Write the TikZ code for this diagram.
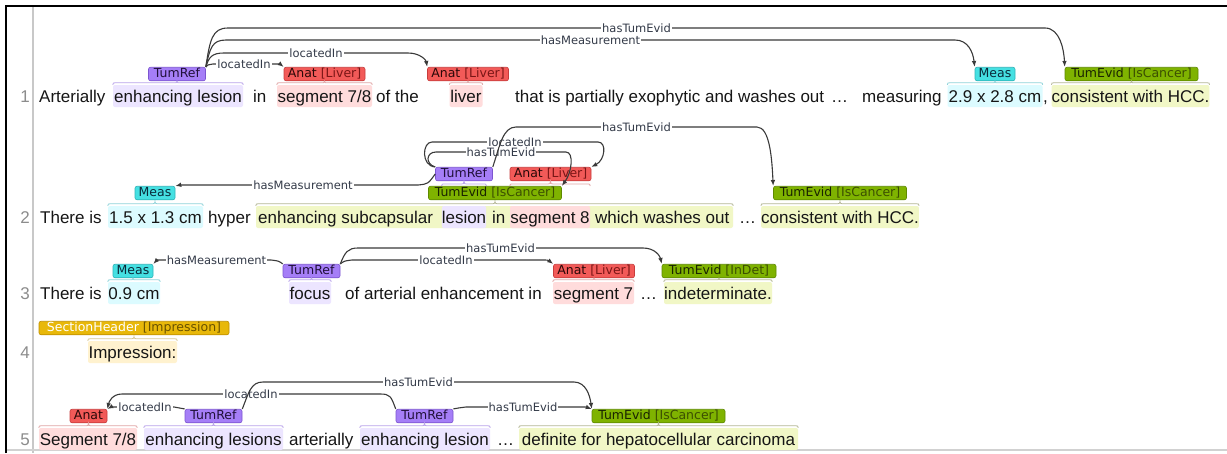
\documentclass[tikz,border=0pt]{standalone}
\usepackage{fontspec}
\setmainfont{Liberation Sans}
\newfontfamily\lblfnt{DejaVu Sans}
\usetikzlibrary{arrows.meta,calc}

% text and line colours
\definecolor{ink}{HTML}{161616}
\definecolor{numgray}{HTML}{8C8C8C}
\definecolor{guttergray}{HTML}{C8C8C8}
\definecolor{arcC}{HTML}{3A3A3A}
\definecolor{arcT}{HTML}{333A48}
% span highlights
\definecolor{bandP}{HTML}{ECE5FF}
\definecolor{bandR}{HTML}{FFDCDC}
\definecolor{bandC}{HTML}{DCFBFF}
\definecolor{bandG}{HTML}{F1F7C6}
\definecolor{bandO}{HTML}{FFF2CF}
% braces
\definecolor{braceP}{HTML}{B9A3EA}
\definecolor{braceR}{HTML}{E0A5A5}
\definecolor{braceC}{HTML}{8FD3DA}
\definecolor{braceG}{HTML}{B4B796}
\definecolor{braceO}{HTML}{D7C795}
% label boxes
\definecolor{tumF}{HTML}{A57EF7}
\definecolor{tumD}{HTML}{7C55D0}
\definecolor{tumT}{HTML}{20103A}
\definecolor{anatF}{HTML}{F25A58}
\definecolor{anatD}{HTML}{C83C3C}
\definecolor{anatT}{HTML}{2A0808}
\definecolor{anatB}{HTML}{7A1616}
\definecolor{measF}{HTML}{45E0E2}
\definecolor{measD}{HTML}{2FB4B8}
\definecolor{measT}{HTML}{0A2A3A}
\definecolor{evF}{HTML}{7FB300}
\definecolor{evD}{HTML}{5F8A00}
\definecolor{evT}{HTML}{1A2400}
\definecolor{evB}{HTML}{3C5000}
\definecolor{shF}{HTML}{E8B80A}
\definecolor{shD}{HTML}{C09000}
\definecolor{shB}{HTML}{6A5200}

% curly bracket from a text span up to its label;
% #1 span node, #2 label node, #3 node whose top gives the bracket ends, #4 colour
\newcommand\spanbrace[4]{%
  \draw[bracel, draw=#4] let \p1=(#1.west), \p2=(#1.east), \p3=(#2.south), \p4=(#3.north) in
    (\x1,\y4) .. controls (\x1,\y4+2pt) .. (\x1+5pt,\y4+2pt)
    -- (\x3-5pt,\y4+2pt) .. controls (\x3,\y4+2pt) .. (\x3,\y3)
    .. controls (\x3,\y4+2pt) .. (\x3+5pt,\y4+2pt)
    -- (\x2-5pt,\y4+2pt) .. controls (\x2,\y4+2pt) .. (\x2,\y4);}

\begin{document}
\begin{tikzpicture}[x=1pt,y=-1pt,
  txt/.style={anchor=base west, inner sep=0pt, text=ink, font=\fontsize{17}{20}\selectfont},
  num/.style={anchor=base east, inner sep=0pt, text=numgray, font=\fontsize{17}{20}\selectfont},
  band/.style={anchor=base, inner xsep=0pt, inner ysep=0pt, text height=17pt, text depth=5pt,
    rounded corners=2pt, text=ink, font=\fontsize{17}{20}\selectfont},
  lbl/.style={inner xsep=2pt, inner ysep=1pt, text height=9pt, text depth=2.5pt,
    rounded corners=2pt, line width=0.6pt, font=\lblfnt\fontsize{12.5}{14}\selectfont},
  tumref/.style={lbl, fill=tumF, draw=tumD, text=tumT, minimum width=57pt},
  anat/.style={lbl, fill=anatF, draw=anatD, text=anatT, minimum width=81pt},
  meas/.style={lbl, fill=measF, draw=measD, text=measT, minimum width=40pt},
  tumevid/.style={lbl, fill=evF, draw=evD, text=evT, minimum width=133pt},
  sechead/.style={lbl, fill=shF, draw=shD, minimum width=190pt},
  arc/.style={draw=arcC, line width=1.1pt, -{Latex[length=6pt,width=4.6pt]}},
  arclbl/.style={fill=white, inner xsep=1pt, inner ysep=0.5pt, text=arcT,
    font=\lblfnt\fontsize{11.5}{13}\selectfont},
  bracel/.style={line width=0.8pt},
  gutter/.style={draw=guttergray, line width=2pt}]

\useasboundingbox (0,0) rectangle (1227,453);
\fill[white] (0,0) rectangle (1227,453);

% frame and line-number gutter
\draw[gutter] (33,6) -- (33,453);
\draw[line width=1.5pt, black!18] (5,450) -- (1227,450);
\draw[line width=2pt, black] (5.5,453) -- (5.5,6) -- (1227,6);

% ---------------- sentence 1 ----------------
\node[num] (n1) at (30,102) {1};
\node[txt] (w1a) at (39,102) {Arterially};
\node[band, fill=bandP, minimum width=130pt] (s1a) at (178,102) {enhancing lesion};
\node[txt] (w1b) at (253,102) {in};
\node[band, fill=bandR, minimum width=95pt] (s1b) at (324.5,102) {segment 7/8};
\node[txt] (w1c) at (376,102) {of the};
\node[band, fill=bandR, minimum width=33pt] (s1c) at (466,102) {liver};
\node[txt] (w1d) at (515,102) {that is partially exophytic and washes out};
\node[txt] (w1e) at (831,102) {…};
\node[txt] (w1f) at (862,102) {measuring};
\node[band, fill=bandC, minimum width=95pt] (s1d) at (995,102) {2.9 x 2.8 cm};
\node[txt] (w1g) at (1043,102) {,};
\node[band, fill=bandG, minimum width=157pt] (s1e) at (1130.5,102) {consistent with HCC.};

\node[tumref] (t1) at (177,74) {TumRef};
\node[anat] (a1) at (324.5,74) {Anat \textcolor{anatB}{[Liver]}};
\node[anat] (a1b) at (468,74) {Anat \textcolor{anatB}{[Liver]}};
\node[meas] (m1) at (995,74) {Meas};
\node[tumevid] (e1) at (1131.5,74) {TumEvid \textcolor{evB}{[IsCancer]}};

\spanbrace{s1a}{t1}{s1a}{braceP}
\spanbrace{s1b}{a1}{s1b}{braceR}
\spanbrace{s1c}{a1b}{s1c}{braceR}
\spanbrace{s1d}{m1}{s1d}{braceC}
\spanbrace{s1e}{e1}{s1e}{braceG}

\draw[arc] (t1.north east) .. controls (210,40) and (212,28) .. (228,28)
  -- node[arclbl]{hasTumEvid} (1045,28) .. controls (1060,28) and (1064,50) .. (e1.north west);
\draw[arc] (t1.north east) .. controls (210,48) and (212,40) .. (226,40)
  -- node[arclbl]{hasMeasurement} (955,40) .. controls (968,40) and (973,52) .. (m1.north west);
\draw[arc] (t1.north east) .. controls (209,57) and (212,53) .. (224,53)
  -- node[arclbl]{locatedIn} (408,53) .. controls (420,53) and (426,60) .. (a1b.north west);
\draw[arc] (t1.north east) .. controls (207,65) .. (213,64)
  -- node[arclbl]{locatedIn} (275,64) .. controls (280,64) .. (a1.north west);

% ---------------- sentence 2 ----------------
\node[num] (n2) at (30,223) {2};
\node[txt] (w2a) at (40,223) {There is};
\node[band, fill=bandC, minimum width=95pt] (s2a) at (155.5,223) {1.5 x 1.3 cm};
\node[txt] (w2b) at (208,223) {hyper};
\node[band, fill=bandG, minimum width=477pt] (s2b) at (494.5,223) {};
\node[band, fill=bandP, minimum width=44pt] (s2c) at (464,223) {lesion};
\node[band, fill=bandR, minimum width=80pt] (s2d) at (550,223) {segment 8};
\node[txt] (w2c) at (258,223) {enhancing subcapsular};
\node[txt] (w2d) at (492,223) {in};
\node[txt] (w2e) at (595,223) {which washes out};
\node[txt] (w2f) at (739,223) {…};
\node[band, fill=bandG, minimum width=156pt] (s2e) at (840,223) {consistent with HCC.};

\node[tumref] (t2) at (464,174) {TumRef};
\node[anat] (a2) at (550.5,174) {Anat \textcolor{anatB}{[Liver]}};
\node[tumevid] (e2a) at (495,193) {TumEvid \textcolor{evB}{[IsCancer]}};
\node[meas] (m2) at (155,193) {Meas};
\node[tumevid] (e2b) at (840,193) {TumEvid \textcolor{evB}{[IsCancer]}};

\spanbrace{s2a}{m2}{s2a}{braceC}
\spanbrace{s2b}{e2a}{s2b}{braceG}
\spanbrace{s2c}{t2}{e2a}{braceP}
\spanbrace{s2d}{a2}{e2a}{braceR}
\spanbrace{s2e}{e2b}{s2e}{braceG}

\draw[arc] (t2.west) .. controls (428,184) .. (418,185)
  -- node[arclbl]{hasMeasurement} (188,185) .. controls (180,185) .. (m2.north east);
\draw[arc] (t2.north west) .. controls (421,166) and (422,142) .. (432,142)
  -- node[arclbl]{locatedIn} (598,142) .. controls (607,142) and (605,160) .. (a2.north east);
\draw[arc] (t2.north west) .. controls (425,164) and (426,152) .. (436,152)
  -- node[arclbl]{hasTumEvid} (566,152) .. controls (574,152) and (572,172) .. (e2a.north east);
\draw[arc] (t2.north east) .. controls (500,145) and (503,127) .. (516,127)
  -- node[arclbl]{hasTumEvid} (757,127) .. controls (770,127) and (772,160) .. (e2b.north west);

% ---------------- sentence 3 ----------------
\node[num] (n3) at (30,299) {3};
\node[txt] (w3a) at (40,299) {There is};
\node[band, fill=bandC, minimum width=52pt] (s3a) at (134,299) {0.9 cm};
\node[band, fill=bandP, minimum width=42pt] (s3b) at (310,299) {focus};
\node[txt] (w3b) at (345,299) {of arterial enhancement in};
\node[band, fill=bandR, minimum width=81pt] (s3c) at (593.5,299) {segment 7};
\node[txt] (w3c) at (640,299) {…};
\node[band, fill=bandG, minimum width=108pt] (s3d) at (718,299) {indeterminate.};

\node[meas] (m3) at (133,271) {Meas};
\node[tumref] (t3) at (311.5,271) {TumRef};
\node[anat] (a3) at (594,271) {Anat \textcolor{anatB}{[Liver]}};
\node[tumevid, minimum width=114pt] (e3) at (719,271) {TumEvid \textcolor{evB}{[InDet]}};

\spanbrace{s3a}{m3}{s3a}{braceC}
\spanbrace{s3b}{t3}{s3b}{braceP}
\spanbrace{s3c}{a3}{s3c}{braceR}
\spanbrace{s3d}{e3}{s3d}{braceG}

\draw[arc] (t3.north west) .. controls (279,261) .. (271,260)
  -- node[arclbl]{hasMeasurement} (162,260) .. controls (157,260) .. (m3.north east);
\draw[arc] (t3.north east) .. controls (344,261) .. (352,260)
  -- node[arclbl]{locatedIn} (540,260) .. controls (548,260) .. (a3.north west);
\draw[arc] (t3.north east) .. controls (345,252) and (348,248) .. (358,248)
  -- node[arclbl]{hasTumEvid} (643,248) .. controls (655,248) and (660,256) .. (e3.north west);

% ---------------- section header ----------------
\node[num] (n4) at (30,358) {4};
\node[band, fill=bandO, minimum width=89pt] (s4a) at (132.5,358) {Impression:};
\node[sechead] (h4) at (134,328) {\textcolor{white}{SectionHeader} \textcolor{shB}{[Impression]}};
\spanbrace{s4a}{h4}{s4a}{braceO}

% ---------------- sentence 5 ----------------
\node[num] (n5) at (30,445) {5};
\node[band, fill=bandR, minimum width=98pt] (s5a) at (88,445) {Segment 7/8};
\node[band, fill=bandP, minimum width=139pt] (s5b) at (213.5,445) {enhancing lesions};
\node[txt] (w5a) at (289,445) {arterially};
\node[band, fill=bandP, minimum width=130pt] (s5c) at (425,445) {enhancing lesion};
\node[txt] (w5b) at (497,445) {…};
\node[band, fill=bandG, minimum width=279pt] (s5d) at (658.5,445) {definite for hepatocellular carcinoma};

\node[anat, minimum width=37pt] (a5) at (88.5,416) {Anat};
\node[tumref] (t5a) at (213.5,416) {TumRef};
\node[tumref] (t5b) at (424.5,416) {TumRef};
\node[tumevid] (e5) at (658.5,416) {TumEvid \textcolor{evB}{[IsCancer]}};

\spanbrace{s5a}{a5}{s5a}{braceR}
\spanbrace{s5b}{t5a}{s5b}{braceP}
\spanbrace{s5c}{t5b}{s5c}{braceP}
\spanbrace{s5d}{e5}{s5d}{braceG}

\draw[arc] (t5a.north west) .. controls (180,408) .. (174,407)
  -- node[arclbl]{locatedIn} (116,407) .. controls (111,407) .. (a5.north east);
\draw[arc] (t5b.north west) .. controls (391,396) and (390,394) .. (380,394)
  -- node[arclbl]{locatedIn} (122,394) .. controls (112,394) and (109,402) .. (a5.north east);
\draw[arc] (t5a.north east) .. controls (249,392) and (251,382) .. (263,382)
  -- node[arclbl]{hasTumEvid} (574,382) .. controls (586,382) and (590,396) .. (e5.north west);
\draw[arc] (t5b.north east) .. controls (458,408) .. (466,407)
  -- node[arclbl]{hasTumEvid} (580,407) .. controls (586,407) .. (e5.north west);

\end{tikzpicture}
\end{document}
